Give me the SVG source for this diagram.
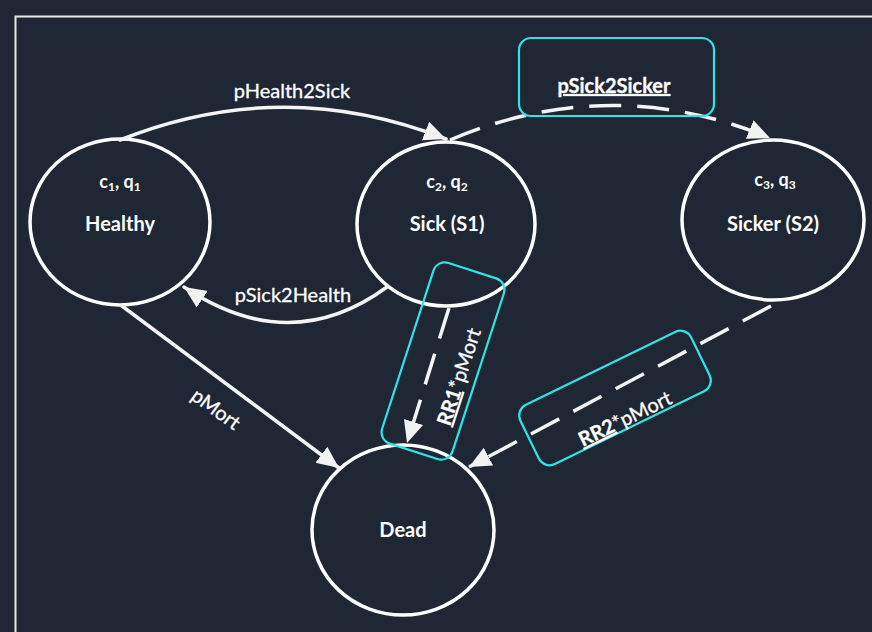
<svg xmlns="http://www.w3.org/2000/svg" width="872" height="632" viewBox="0 0 872 632">
  <defs>
    <marker id="arrow" markerUnits="userSpaceOnUse" markerWidth="24" markerHeight="22" viewBox="0 0 24 22" refX="22" refY="11" orient="auto">
      <path d="M0,1 L22,11 L0,21 Z" fill="#f2f2f2"/>
    </marker>
    <style>
      .bg { fill: #1e2733; }
      .frame { fill: none; stroke: #e9e9ec; stroke-width: 2; }
      .state { fill: none; stroke: #ffffff; stroke-width: 3.5; }
      .edge { fill: none; stroke: #f4f4f4; stroke-width: 3.5; stroke-linecap: round; }
      .dashed { stroke-dasharray: 32 16; stroke-linecap: butt; }
      .hl { fill: none; stroke: #2fe3e6; stroke-width: 2.2; }
      .txt { font-family: Lato, "Liberation Sans", sans-serif; fill: #ffffff; }
      .name { font-size: 20px; font-weight: bold; text-anchor: middle; }
      .attr { font-size: 18px; font-weight: bold; text-anchor: middle; }
      .sub { font-size: 12px; }
      .lbl { font-size: 20px; text-anchor: middle; stroke: #ffffff; stroke-width: 0.3; }
      .u { text-decoration: underline; font-weight: bold; }
    </style>
  </defs>

  <rect class="bg" x="0" y="0" width="872" height="632"/>
  <rect class="frame" x="15.5" y="16.5" width="900" height="660"/>

  <g id="healthy">
    <ellipse class="state" cx="120" cy="222" rx="90" ry="83"/>
    <text class="txt attr" x="120" y="188">c<tspan class="sub" dy="3">1</tspan><tspan dy="-3">, q</tspan><tspan class="sub" dy="3">1</tspan></text>
    <text class="txt name" x="120" y="231">Healthy</text>
  </g>

  <g id="sick">
    <ellipse class="state" cx="446" cy="224" rx="89" ry="82"/>
    <text class="txt attr" x="447" y="188">c<tspan class="sub" dy="3">2</tspan><tspan dy="-3">, q</tspan><tspan class="sub" dy="3">2</tspan></text>
    <text class="txt name" x="447" y="231">Sick (S1)</text>
  </g>

  <g id="sicker">
    <ellipse class="state" cx="773" cy="220" rx="91" ry="80"/>
    <text class="txt attr" x="775" y="186">c<tspan class="sub" dy="3">3</tspan><tspan dy="-3">, q</tspan><tspan class="sub" dy="3">3</tspan></text>
    <text class="txt name" x="773" y="231">Sicker (S2)</text>
  </g>

  <g id="dead">
    <ellipse class="state" cx="403" cy="530" rx="91" ry="85"/>
    <text class="txt name" x="403" y="537">Dead</text>
  </g>

  <!-- transitions -->
  <g id="connectors">
    <path id="e-health-sick" class="edge" d="M120,140 Q283,75 446,139" marker-end="url(#arrow)"/>
    <path id="e-sick-health" class="edge" d="M387,287 Q290,358 184,287" marker-end="url(#arrow)"/>
    <path id="e-sick-sicker" class="edge dashed" d="M450,140 Q610,72 770,138" marker-end="url(#arrow)"/>
    <path id="e-health-dead" class="edge" d="M122,306 L339,468" marker-end="url(#arrow)"/>
    <path id="e-sick-dead" class="edge dashed" d="M449,308 L407,443" marker-end="url(#arrow)"/>
    <path id="e-sicker-dead" class="edge dashed" d="M771,306 L469,467" marker-end="url(#arrow)"/>

    <text class="txt lbl" x="292" y="98">pHealth2Sick</text>
    <text class="txt lbl" x="293" y="302">pSick2Health</text>
    <text class="txt lbl" transform="translate(216,409) rotate(36)" x="0" y="7">pMort</text>

    <!-- highlighted labels -->
    <rect class="hl" x="519" y="38" width="195" height="78" rx="12"/>
    <text class="txt lbl u" x="614" y="93">pSick2Sicker</text>

    <g transform="translate(443,361) rotate(-72)">
      <rect class="hl" x="-95" y="-37" width="190" height="74" rx="12"/>
      <text class="txt lbl" x="-10" y="27"><tspan class="u">RR1</tspan>*pMort</text>
    </g>

    <g transform="translate(615,398) rotate(-26)">
      <rect class="hl" x="-95" y="-33" width="190" height="66" rx="12"/>
      <text class="txt lbl" x="0" y="30"><tspan class="u">RR2</tspan>*pMort</text>
    </g>
  </g>
</svg>
